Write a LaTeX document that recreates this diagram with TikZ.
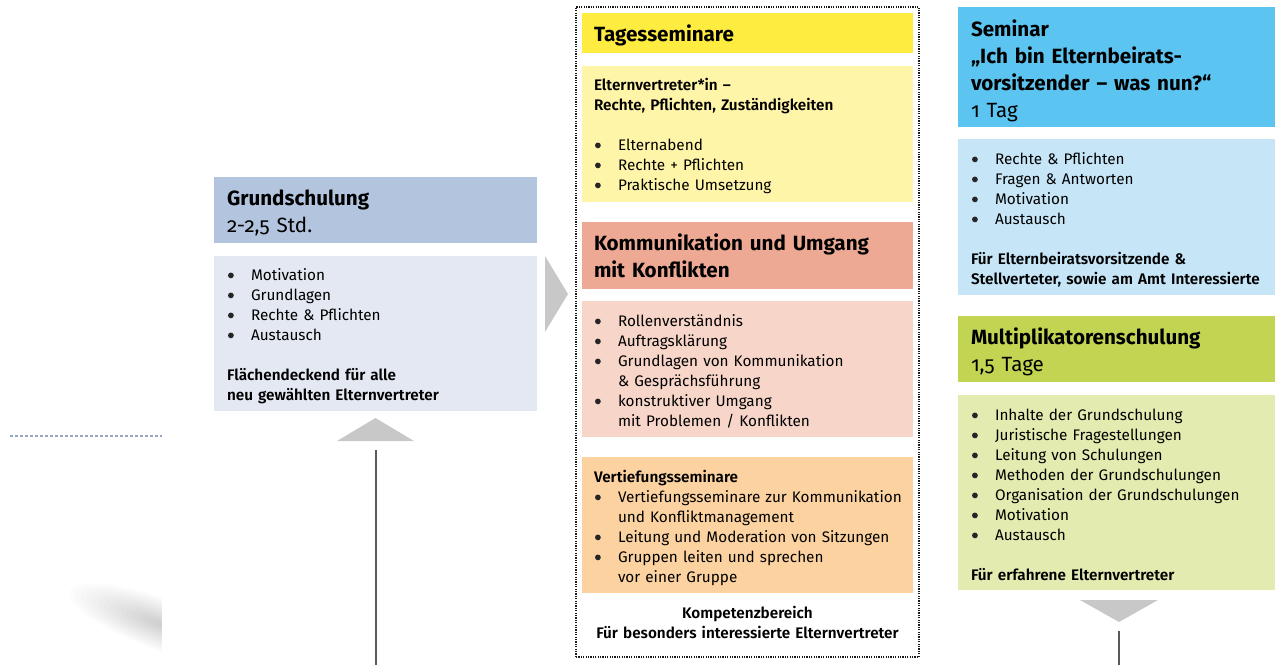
\documentclass[tikz,border=0pt]{standalone}
\usepackage{fontspec}
\setmainfont{Fira Sans}[Numbers=OldStyle, BoldFont={Fira Sans SemiBold}]
\newfontfamily\headfont{Fira Sans}[Numbers=OldStyle]
\definecolor{gsHead}{RGB}{179,196,222}
\definecolor{gsBody}{RGB}{227,232,242}
\definecolor{arrowGray}{RGB}{200,200,200}
\definecolor{tsHead}{RGB}{255,236,64}
\definecolor{tsBody}{RGB}{255,245,168}
\definecolor{koHead}{RGB}{237,169,148}
\definecolor{koBody}{RGB}{247,214,201}
\definecolor{veBody}{RGB}{252,211,160}
\definecolor{seHead}{RGB}{92,196,240}
\definecolor{seBody}{RGB}{198,230,248}
\definecolor{muHead}{RGB}{195,212,82}
\definecolor{muBody}{RGB}{227,235,176}
\definecolor{dotBlue}{RGB}{150,166,190}
\definecolor{lineGray}{RGB}{90,90,90}
\newcommand\bu{\makebox[24pt][l]{\hspace{1pt}\tikz[baseline=0pt]\fill[black!85] (0pt,4.6pt) circle (2.9pt);}}
\newcommand\ind{\hspace*{24pt}}
\begin{document}
\begin{tikzpicture}[x=1pt,y=-1pt,
  box/.style={draw=none,inner sep=0pt,outer sep=0pt,anchor=north west},
  txt/.style={inner sep=0pt,outer sep=0pt,anchor=base west,align=left,text width=#1,
    font=\fontsize{15.3}{20}\selectfont},
  txt/.default=320pt,
  head/.style={inner sep=0pt,outer sep=0pt,anchor=base west,align=left,text width=330pt,
    font=\headfont\fontsize{20.6}{27}\selectfont},
  tri/.style={fill=arrowGray,draw=none},
  vline/.style={draw=lineGray,line width=1.3pt}]
\useasboundingbox (0,0) rectangle (1275,665);
% faint shadow lower left
\begin{scope}
\clip (0,560) rectangle (162,665);
\begin{scope}[rotate around={-20:(160,624)}]
\foreach \i in {1,...,16}
  \fill[black,opacity=0.012] (160,624) ellipse [x radius={6*\i}, y radius={1.6*\i}];
\end{scope}
\end{scope}
% left dotted line
\coordinate (dl1) at (10,436);
\coordinate (dl2) at (162,436);
\draw[dotBlue,line width=2pt,dash pattern=on 2.5pt off 2.5pt] (dl1) -- (dl2);

% Grundschulung
\node[box,fill=gsHead,minimum width=323pt,minimum height=66pt] (gsH) at (214,177) {};
\node[box,fill=gsBody,minimum width=323pt,minimum height=155pt] (gsB) at (214,256) {};
\node[head] (gsHT) at (227,205) {\textbf{Grundschulung}\\2-2,5 Std.};
\node[txt] (gsBT) at (227,280) {\bu Motivation\\\bu Grundlagen\\\bu Rechte \& Pflichten\\\bu Austausch\\[20pt]
 \textbf{Flächendeckend für alle}\\\textbf{neu gewählten Elternvertreter}};
% right arrow
\coordinate (ra1) at (545,256);
\coordinate (ra2) at (568,294);
\coordinate (ra3) at (545,332);
\fill[tri] (ra1) -- (ra2) -- (ra3) -- cycle;
% up triangle + line
\coordinate (ut1) at (337,441);
\coordinate (ut2) at (375.5,418);
\coordinate (ut3) at (414,441);
\fill[tri] (ut1) -- (ut2) -- (ut3) -- cycle;
\coordinate (ul1) at (376,450);
\coordinate (ul2) at (376,665);
\draw[vline] (ul1) -- (ul2);

% middle frame
\node[box,draw=black!90,line width=1.2pt,dash pattern=on 1.2pt off 1.2pt,minimum width=343pt,minimum height=650pt] (frame) at (576,7) {};
\node[box,fill=tsHead,minimum width=331pt,minimum height=40pt] (tsH) at (582,13) {};
\node[head] (tsHT) at (594,41) {\textbf{Tagesseminare}};
\node[box,fill=tsBody,minimum width=331pt,minimum height=136pt] (tsB) at (582,66) {};
\node[txt] (tsBT) at (594,90) {\textbf{Elternvertreter*in –}\\\textbf{Rechte, Pflichten, Zuständigkeiten}\\[20pt]
 \bu Elternabend\\\bu Rechte + Pflichten\\\bu Praktische Umsetzung};
\node[box,fill=koHead,minimum width=331pt,minimum height=67pt] (koH) at (582,222) {};
\node[head] (koHT) at (594,250) {\textbf{Kommunikation und Umgang}\\\textbf{mit Konflikten}};
\node[box,fill=koBody,minimum width=331pt,minimum height=136pt] (koB) at (582,301) {};
\node[txt] (koBT) at (594,326) {\bu Rollenverständnis\\\bu Auftragsklärung\\\bu Grundlagen von Kommunikation\\\ind \& Gesprächsführung\\
 \bu konstruktiver Umgang\\\ind mit Problemen / Konflikten};
\node[box,fill=veBody,minimum width=331pt,minimum height=136pt] (veB) at (582,457) {};
\node[txt] (veBT) at (594,482) {\textbf{Vertiefungsseminare}\\\bu Vertiefungsseminare zur Kommunikation\\\ind und Konfliktmanagement\\
 \bu Leitung und Moderation von Sitzungen\\\bu Gruppen leiten und sprechen\\\ind vor einer Gruppe};
\node[inner sep=0pt,anchor=base,align=center,text width=330pt,font=\fontsize{15.3}{20}\selectfont\bfseries] (kompT) at (747.5,618)
 {Kompetenzbereich\\Für besonders interessierte Elternvertreter};

% right column
\node[box,fill=seHead,minimum width=317pt,minimum height=120pt] (seH) at (958,7) {};
\node[head] (seHT) at (971,36) {\textbf{Seminar}\\\textbf{„Ich bin Elternbeirats-}\\\textbf{vorsitzender – was nun?“}\\1 Tag};
\node[box,fill=seBody,minimum width=317pt,minimum height=156pt] (seB) at (958,139) {};
\node[txt=300pt] (seBT) at (971,164) {\bu Rechte \& Pflichten\\\bu Fragen \& Antworten\\\bu Motivation\\\bu Austausch\\[20pt]
 \textbf{Für Elternbeiratsvorsitzende \&}\\\textbf{Stellverteter, sowie am Amt Interessierte}};
\node[box,fill=muHead,minimum width=317pt,minimum height=66pt] (muH) at (958,316) {};
\node[head] (muHT) at (971,344) {\textbf{Multiplikatorenschulung}\\1,5 Tage};
\node[box,fill=muBody,minimum width=317pt,minimum height=195pt] (muB) at (958,395) {};
\node[txt=300pt] (muBT) at (971,420) {\bu Inhalte der Grundschulung\\\bu Juristische Fragestellungen\\\bu Leitung von Schulungen\\
 \bu Methoden der Grundschulungen\\\bu Organisation der Grundschulungen\\\bu Motivation\\\bu Austausch\\[20pt]
 \textbf{Für erfahrene Elternvertreter}};
% down triangle + line
\coordinate (dt1) at (1080,600);
\coordinate (dt2) at (1158,600);
\coordinate (dt3) at (1119,622);
\fill[tri] (dt1) -- (dt2) -- (dt3) -- cycle;
\coordinate (dl3) at (1119,631);
\coordinate (dl4) at (1119,665);
\draw[vline] (dl3) -- (dl4);
\end{tikzpicture}
\end{document}
